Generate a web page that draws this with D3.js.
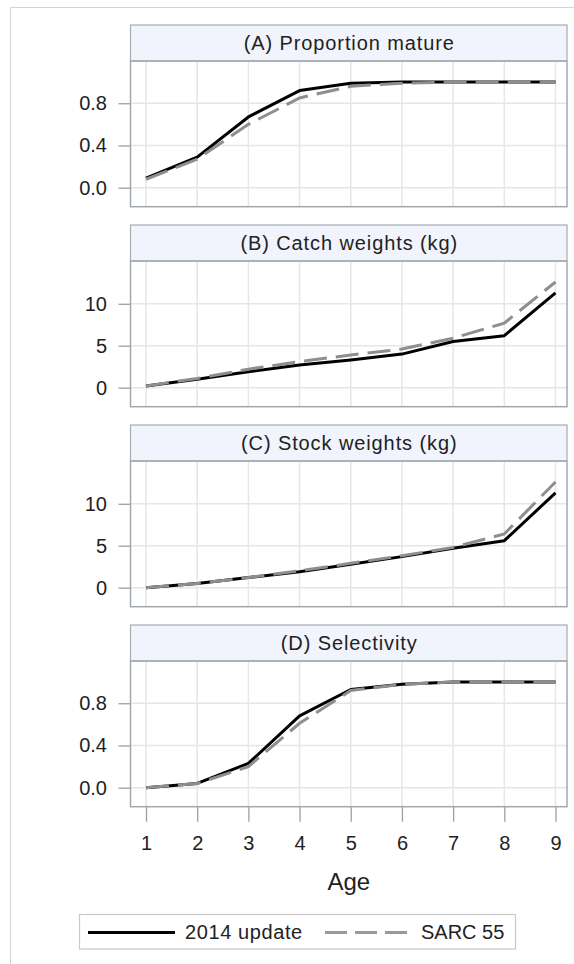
<!DOCTYPE html>
<html>
<head>
<meta charset="utf-8">
<script src="https://cdn.jsdelivr.net/npm/d3@7"></script>
<style>
  html, body { margin: 0; padding: 0; background: #fff; }
  svg { display: block; }
  text { font-family: "Liberation Sans", Arial, sans-serif; fill: #222; }
</style>
</head>
<body>
<script>
// ---------- data ----------
const ages = [1, 2, 3, 4, 5, 6, 7, 8, 9];
const panelTitles = ["(A) Proportion mature", "(B) Catch weights (kg)", "(C) Stock weights (kg)", "(D) Selectivity"];
const seriesNames = ["2014 update", "SARC 55"];

const maturity2014 = [0.09, 0.29, 0.67, 0.92, 0.99, 1.0, 1.0, 1.0, 1.0];
const maturitySARC = [0.08, 0.27, 0.60, 0.85, 0.96, 0.99, 1.0, 1.0, 1.0];

const catchWt2014 = [0.2, 1.0, 1.9, 2.7, 3.3, 4.0, 5.5, 6.2, 11.3];
const catchWtSARC = [0.2, 1.1, 2.2, 3.1, 3.9, 4.6, 5.9, 7.7, 12.6];

const stockWt2014 = [0.0, 0.5, 1.2, 1.9, 2.8, 3.7, 4.7, 5.6, 11.3];
const stockWtSARC = [0.0, 0.5, 1.2, 2.0, 2.9, 3.8, 4.8, 6.4, 12.6];

const select2014 = [0.0, 0.04, 0.23, 0.68, 0.93, 0.98, 1.0, 1.0, 1.0];
const selectSARC = [0.0, 0.04, 0.20, 0.61, 0.92, 0.98, 1.0, 1.0, 1.0];

const propTicks = [0.0, 0.4, 0.8];
const weightTicks = [0, 5, 10];
const xAxisLabel = "Age";

// ---------- layout ----------
const W = 574, H = 964;
const plotL = 130.5, plotR = 567;
const headTop0 = 25, headH = 36, plotH = 145.7, step = 200;

const panels = [
  { title: panelTitles[0], a: maturity2014, b: maturitySARC, dom: [-0.18, 1.2], ticks: propTicks, fmt: d3.format(".1f") },
  { title: panelTitles[1], a: catchWt2014, b: catchWtSARC, dom: [-2.27, 15.1], ticks: weightTicks, fmt: d3.format("d") },
  { title: panelTitles[2], a: stockWt2014, b: stockWtSARC, dom: [-2.27, 15.1], ticks: weightTicks, fmt: d3.format("d") },
  { title: panelTitles[3], a: select2014, b: selectSARC, dom: [-0.18, 1.2], ticks: propTicks, fmt: d3.format(".1f") }
];

const svg = d3.select("body").append("svg").attr("width", W).attr("height", H);

// outer frame
svg.append("rect").attr("x", 10.5).attr("y", 7.5).attr("width", W + 10).attr("height", H + 10)
  .attr("fill", "#fff").attr("stroke", "#d4d4d4").attr("stroke-width", 1);

const x = d3.scaleLinear().domain([1, 9]).range([146, 555.5]);

panels.forEach((p, i) => {
  const hTop = headTop0 + i * step;
  const pTop = hTop + headH;
  const pBot = pTop + plotH;
  const y = d3.scaleLinear().domain(p.dom).range([pBot, pTop]);
  const g = svg.append("g");

  // header
  g.append("rect").attr("x", plotL).attr("y", hTop).attr("width", plotR - plotL).attr("height", headH)
    .attr("fill", "#f1f4fc").attr("stroke", "#a7aeb3").attr("stroke-width", 1.2);
  g.append("text").attr("x", (plotL + plotR) / 2 + 0.5).attr("y", hTop + headH / 2)
    .attr("dy", "0.36em").attr("text-anchor", "middle").style("font-size", "20px")
    .style("letter-spacing", "0.9px").text(p.title);

  // gridlines
  g.append("g").selectAll("line").data(ages).join("line")
    .attr("x1", d => x(d)).attr("x2", d => x(d)).attr("y1", pTop).attr("y2", pBot)
    .attr("stroke", "#e6e6e6").attr("stroke-width", 1.5);
  g.append("g").selectAll("line").data(p.ticks).join("line")
    .attr("x1", plotL).attr("x2", plotR).attr("y1", d => y(d)).attr("y2", d => y(d))
    .attr("stroke", "#e6e6e6").attr("stroke-width", 1.5);

  // y axis
  const ya = g.append("g").attr("transform", `translate(${plotL},0)`)
    .call(d3.axisLeft(y).tickValues(p.ticks).tickFormat(p.fmt).tickSize(12).tickPadding(11.5));
  ya.select(".domain").remove();
  ya.selectAll(".tick line").attr("stroke", "#9aa1a6").attr("stroke-width", 1.3);
  ya.selectAll(".tick text").style("font-size", "20px").attr("fill", "#222")
    .style("font-family", '"Liberation Sans", Arial, sans-serif');

  // lines
  const line = d3.line().x((d, k) => x(ages[k])).y(d => y(d));
  g.append("path").datum(p.a).attr("d", line).attr("fill", "none")
    .attr("stroke", "#000").attr("stroke-width", 3).attr("stroke-linejoin", "round");
  g.append("path").datum(p.b).attr("d", line).attr("fill", "none")
    .attr("stroke", "#8e8e8e").attr("stroke-width", 3).attr("stroke-dasharray", "23,9");

  // plot frame
  g.append("rect").attr("x", plotL).attr("y", pTop).attr("width", plotR - plotL).attr("height", plotH)
    .attr("fill", "none").attr("stroke", "#a2a9ae").attr("stroke-width", 1.5);

  if (i === panels.length - 1) {
    const xa = g.append("g").attr("transform", `translate(0,${pBot})`)
      .call(d3.axisBottom(x).tickValues(ages).tickFormat(d3.format("d")).tickSize(15).tickPadding(14));
    xa.select(".domain").remove();
    xa.selectAll(".tick line").attr("stroke", "#9aa1a6").attr("stroke-width", 1.3);
    xa.selectAll(".tick text").style("font-size", "20px").attr("fill", "#222")
      .style("font-family", '"Liberation Sans", Arial, sans-serif');
    svg.append("text").attr("x", (plotL + plotR) / 2).attr("y", 890).attr("text-anchor", "middle")
      .style("font-size", "24px").text(xAxisLabel);
  }
});

// legend
const lg = svg.append("g");
lg.append("rect").attr("x", 79.5).attr("y", 914.5).attr("width", 436).attr("height", 34.5)
  .attr("fill", "#fff").attr("stroke", "#c9c9c9").attr("stroke-width", 1.2);
lg.append("line").attr("x1", 88).attr("x2", 175).attr("y1", 932.5).attr("y2", 932.5)
  .attr("stroke", "#000").attr("stroke-width", 3);
lg.append("text").attr("x", 185).attr("y", 938.5).style("font-size", "20px").style("letter-spacing", "0.6px").text(seriesNames[0]);
lg.append("line").attr("x1", 325).attr("x2", 407).attr("y1", 932.5).attr("y2", 932.5)
  .attr("stroke", "#999").attr("stroke-width", 3).attr("stroke-dasharray", "22,8");
lg.append("text").attr("x", 421).attr("y", 938.5).style("font-size", "20px").text(seriesNames[1]);
</script>
</body>
</html>
